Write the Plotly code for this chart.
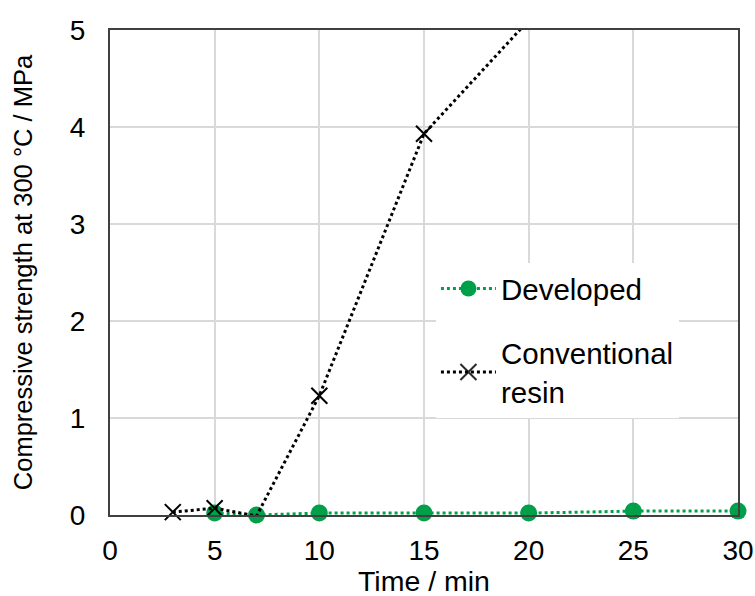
import plotly.graph_objects as go

# Data
dev_time = [5, 7, 10, 15, 20, 25, 30]
dev_strength = [0.02, 0.0, 0.02, 0.02, 0.02, 0.04, 0.04]

conv_time = [3, 5, 7, 10, 15, 20]
conv_strength = [0.03, 0.07, -0.01, 1.23, 3.93, 5.1]

x_ticks = [0, 5, 10, 15, 20, 25, 30]
y_ticks = [0, 1, 2, 3, 4, 5]
Y_MAX = 5

X_TITLE = "Time / min"
Y_TITLE = "Compressive strength at 300 °C / MPa"

GREEN = "#00a04a"
FONT = "Liberation Sans, Arial, sans-serif"

fig = go.Figure()

fig.add_trace(go.Scatter(
    x=dev_time, y=dev_strength, mode="lines+markers", name="Developed",
    line=dict(color=GREEN, width=3, dash="dot"),
    marker=dict(color=GREEN, size=17, symbol="circle"),
    cliponaxis=False,
    legendgroup="a",
))

fig.add_trace(go.Scatter(
    x=conv_time, y=conv_strength, mode="lines+markers", name="Conventional<br>resin",
    line=dict(color="black", width=3, dash="dot"),
    marker=dict(color="black", size=16, symbol="x-thin",
                opacity=[1 if v <= Y_MAX else 0 for v in conv_strength],
                line=dict(color="black", width=2)),
    cliponaxis=False,
    legendgroup="b",
))

fig.update_layout(
    width=755, height=596,
    margin=dict(l=110, r=17, t=30, b=81),
    paper_bgcolor="white", plot_bgcolor="white",
    font=dict(family=FONT, size=28, color="black"),
    showlegend=True,
    legend=dict(x=0.519, y=0.52, xanchor="left", yanchor="top",
                bgcolor="white", borderwidth=0,
                font=dict(size=29.5, family=FONT),
                tracegroupgap=23, itemwidth=55),
    annotations=[dict(
        text=X_TITLE, xref="paper", yref="paper", x=0.5, y=0,
        xanchor="center", yanchor="middle", yshift=-66, showarrow=False,
        font=dict(size=28.5, family=FONT, color="black"),
    )],
)

fig.update_xaxes(
    range=[0, 30], tickvals=x_ticks,
    ticks="outside", ticklen=9, tickcolor="rgba(0,0,0,0)",
    showgrid=True, gridcolor="#d9d9d9", gridwidth=2,
    showline=True, linecolor="#404040", linewidth=2, mirror=True,
    zeroline=False, automargin=False,
    tickfont=dict(size=28),
)
fig.update_yaxes(
    range=[0, 5], tickvals=y_ticks,
    ticks="outside", ticklen=17, tickcolor="rgba(0,0,0,0)",
    showgrid=True, gridcolor="#d9d9d9", gridwidth=2,
    showline=True, linecolor="#404040", linewidth=2, mirror=True,
    zeroline=False, automargin=False,
    title=dict(text=Y_TITLE, font=dict(size=25.5), standoff=30),
    tickfont=dict(size=28),
)

fig.write_html("out.html")
